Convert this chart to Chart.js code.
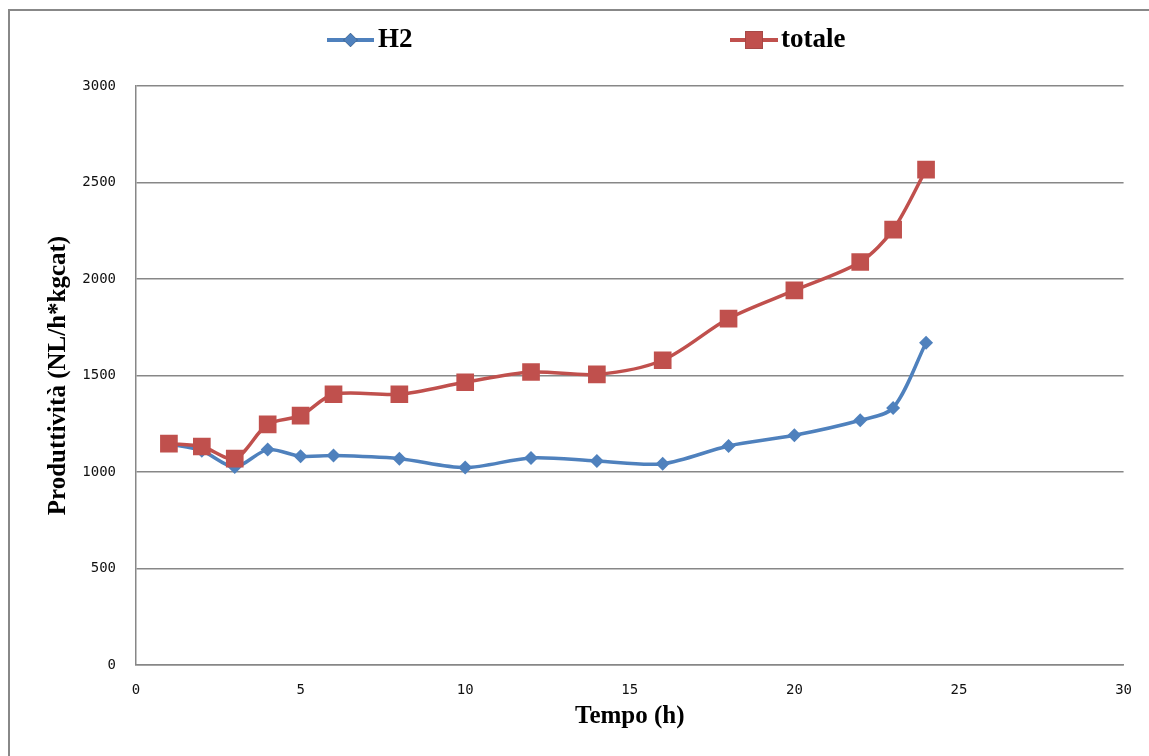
<!DOCTYPE html>
<html>
<head>
<meta charset="utf-8">
<script src="https://cdn.jsdelivr.net/npm/chart.js@4"></script>
<style>
  html, body { margin: 0; padding: 0; background: #fff; }
  #wrap { position: relative; width: 1149px; height: 756px; }
</style>
</head>
<body>
<div id="wrap"><canvas id="c" width="1149" height="756"></canvas></div>
<script>
// ---- data ----
const timeH   = [1, 2, 3, 4, 5, 6, 8, 10, 12, 14, 16, 18, 20, 22, 23, 24];
const h2Vals  = [1145, 1110, 1026, 1116, 1081, 1085, 1069, 1023, 1073, 1057, 1043, 1135, 1190, 1268, 1332, 1670];
const totVals = [1147, 1132, 1069, 1247, 1292, 1403, 1403, 1465, 1518, 1506, 1579, 1795, 1941, 2088, 2256, 2567];
const seriesNames = ['H2', 'totale'];
const xTitle = 'Tempo (h)';
const yTitle = 'Produttività (NL/h*kgcat)';

const blue = '#4F81BD';
const red = '#C0504D';
const gridGray = '#878787';

const toXY = (xs, ys) => xs.map((x, i) => ({ x: x, y: ys[i] }));

const frame = {
  id: 'frame',
  beforeDraw(chart) {
    const ctx = chart.ctx;
    ctx.save();
    ctx.fillStyle = '#fff';
    ctx.fillRect(0, 0, chart.width, chart.height);
    ctx.strokeStyle = '#888';
    ctx.lineWidth = 2;
    ctx.beginPath();
    ctx.moveTo(9, chart.height);
    ctx.lineTo(9, 10);
    ctx.lineTo(chart.width, 10);
    ctx.stroke();
    ctx.restore();
  }
};

const customLegend = {
  id: 'customLegend',
  afterDraw(chart) {
    const ctx = chart.ctx;
    const items = [
      { ds: 0, x0: 327, x1: 374, y: 40, tx: 378 },
      { ds: 1, x0: 730, x1: 778, y: 40, tx: 781 }
    ];
    ctx.save();
    items.forEach(it => {
      const ds = chart.data.datasets[it.ds];
      ctx.strokeStyle = ds.borderColor;
      ctx.lineWidth = 4;
      ctx.beginPath();
      ctx.moveTo(it.x0, it.y);
      ctx.lineTo(it.x1, it.y);
      ctx.stroke();
      Chart.helpers.drawPoint(ctx, {
        pointStyle: ds.pointStyle,
        radius: ds.pointRadius,
        rotation: 0,
        borderWidth: 0
      }, (it.x0 + it.x1) / 2, it.y);
      ctx.fillStyle = ds.pointBackgroundColor;
      ctx.fill();
      ctx.fillStyle = '#000';
      ctx.font = 'bold 27px "Liberation Serif", "Times New Roman", serif';
      ctx.textBaseline = 'middle';
      ctx.textAlign = 'left';
      ctx.fillText(ds.label, it.tx, it.y);
    });
    ctx.restore();
  }
};

const plainTick = (v) => String(v);

new Chart(document.getElementById('c'), {
  type: 'line',
  data: {
    datasets: [
      {
        label: seriesNames[0],
        data: toXY(timeH, h2Vals),
        borderColor: blue,
        backgroundColor: blue,
        pointBackgroundColor: blue,
        pointBorderColor: blue,
        borderWidth: 3.5,
        pointStyle: 'rectRot',
        pointRadius: 7,
        pointBorderWidth: 0,
        tension: 0.3,
        order: 2
      },
      {
        label: seriesNames[1],
        data: toXY(timeH, totVals),
        borderColor: red,
        backgroundColor: red,
        pointBackgroundColor: red,
        pointBorderColor: red,
        borderWidth: 3.5,
        pointStyle: 'rect',
        pointRadius: 12.5,
        pointBorderWidth: 0,
        tension: 0.3,
        order: 1
      }
    ]
  },
  options: {
    responsive: false,
    animation: false,
    events: [],
    layout: { padding: { left: 0, right: 24, top: 86, bottom: 0 } },
    plugins: {
      legend: { display: false },
      tooltip: { enabled: false }
    },
    scales: {
      x: {
        type: 'linear',
        min: 0, max: 30,
        afterFit(scale) { scale.height = 91; },
        ticks: {
          stepSize: 5,
          padding: 17,
          color: '#111',
          callback: plainTick,
          font: { family: '"DejaVu Sans Mono", monospace', size: 14 }
        },
        grid: { display: false, drawTicks: false },
        border: { display: true, color: gridGray, width: 1.5 },
        title: {
          display: true,
          text: xTitle,
          color: '#000',
          font: { family: '"Liberation Serif", "Times New Roman", serif', size: 25, weight: 'bold' },
          padding: { top: 0, bottom: 24 }
        }
      },
      y: {
        min: 0, max: 3000,
        afterFit(scale) { scale.width = 136; },
        ticks: {
          stepSize: 500,
          padding: 20,
          color: '#111',
          callback: plainTick,
          font: { family: '"DejaVu Sans Mono", monospace', size: 14 }
        },
        grid: { color: gridGray, lineWidth: 1.5, drawTicks: false },
        border: { display: true, color: gridGray, width: 1.5 },
        title: {
          display: true,
          text: yTitle,
          color: '#000',
          font: { family: '"Liberation Serif", "Times New Roman", serif', size: 25, weight: 'bold' },
          padding: { top: 44, bottom: 0 }
        }
      }
    }
  },
  plugins: [frame, customLegend]
});
</script>
</body>
</html>
